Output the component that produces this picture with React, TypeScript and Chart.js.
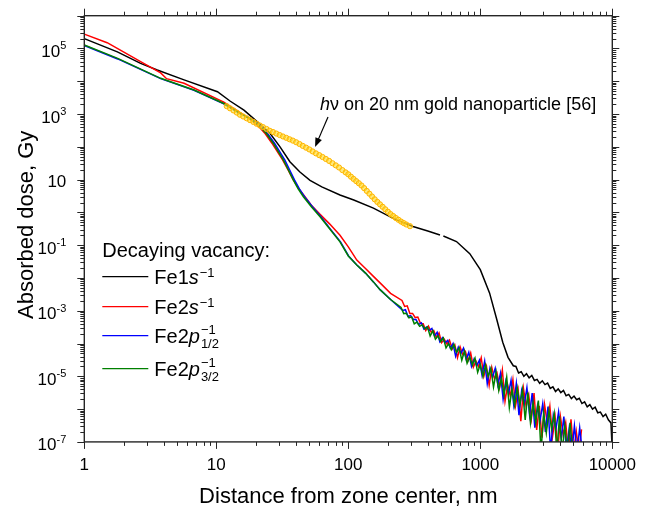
import React, { useEffect, useRef } from 'react';
import { Chart, registerables } from 'chart.js';

Chart.register(...registerables);

const FONT = '"Liberation Sans", Arial, Helvetica, sans-serif';
const AXIS_COLOR = '#262626';

// ---- axes ----
const X_MIN = 1;
const X_MAX = 10000;
const Y_MIN = 1e-7;
const Y_MAX = 1e6;
const xTickValues = [1, 10, 100, 1000, 10000];
const xTickLabels = ['1', '10', '100', '1000', '10000'];
const yTickExponents = [5, 3, 1, -1, -3, -5, -7];
const xTitle = 'Distance from zone center, nm';
const yTitle = 'Absorbed dose, Gy';
const legendTitle = 'Decaying vacancy:';

// ---- Fe1s^-1 (black) ----
const fe1sDistance = [
  1, 1.78, 2.67, 3.57, 5.7, 10.2, 12.7, 16.2, 19.1, 25.5, 30.4, 36.1, 43, 51.3, 63, 86.5, 110, 155, 219, 309, 400, 495,
  510, 525, 660, 832, 1000, 1175, 1330, 1479, 1622, 1778,
  1862, 1950, 2042, 2138, 2239, 2344, 2455, 2570, 2692, 2818, 2951, 3090, 3236, 3388, 3548, 3715, 3890, 4074, 4266,
  4467, 4677, 4898, 5129, 5370, 5623, 5888, 6166, 6457, 6761, 7079, 7413, 7762, 8128, 8511, 8913, 9333, 9772, 10000,
];
const fe1sDose = [
  2.0e5, 7.9e4, 3.5e4, 2.2e4, 1.1e4, 4.8e3, 2.5e3, 1.32e3, 7.4e2, 2.6e2, 1.0e2, 35, 17, 9.5, 6.0, 3.4, 2.4, 1.35, 0.66,
  0.37, 0.27, 0.205,
  null, 0.19, 0.129, 0.055, 0.018, 3.5e-3, 5.6e-4, 1.1e-4, 3.8e-5, 2.1e-5,
  2.0e-5, 1.26e-5, 1.38e-5, 1.0e-5, 1.2e-5, 9.0e-6, 1.06e-5, 7.5e-6, 8.1e-6, 6.1e-6, 7.3e-6, 5.6e-6, 6.2e-6, 4.3e-6,
  4.8e-6, 3.45e-6, 4.15e-6, 3.2e-6, 3.7e-6, 2.55e-6, 2.8e-6, 2.1e-6, 2.5e-6, 1.93e-6, 2.14e-6, 1.48e-6, 1.66e-6,
  1.17e-6, 1.37e-6, 1.0e-6, 1.14e-6, 7.7e-7, 8.1e-7, 5.9e-7, 7.0e-7, 4.7e-7, 3.8e-7, 5e-8,
];

// ---- Fe2s^-1 (red) ----
const fe2sDistance = [
  1, 1.49, 2.67, 3.79, 4.2, 5.7, 11.4, 15.1, 18.0, 21.0, 23.5, 26.4, 29.0, 31.8, 34.9, 38.3, 42.0, 46.5, 52.5, 61.1,
  72.4, 86.5, 100, 116, 135, 155, 174, 209,
];
const fe2sDose = [
  2.75e5, 1.5e5, 4.0e4, 1.8e4, 1.2e4, 8.7e3, 2.3e3, 1.1e3, 7.0e2, 4.2e2, 2.5e2, 1.29e2, 71, 40, 20, 9.8, 5.4, 3.2, 1.65,
  0.87, 0.44, 0.2, 0.089, 0.035, 0.0195, 0.0112, 7.1e-3, 3.4e-3,
];
const fe2sTailDistance = [
  255.1, 267.3, 279.5, 292.7, 306.9, 321.2, 336.4, 352.7, 368.9, 386.2,
  404.5, 423.8, 444.1, 464.4, 486.8, 509.2, 533.6, 559.0, 584.4, 612.8,
  641.3, 671.8, 703.3, 735.8, 771.4, 806.9, 845.6, 885.2, 926.9, 970.6,
  1016, 1064, 1114, 1167, 1222, 1280, 1339, 1402, 1469, 1539,
  1611, 1687, 1766, 1850, 1936, 2028, 2123, 2224, 2328, 2438,
  2553, 2673, 2799, 2931, 3069, 3214, 3365, 3524, 3690, 3864,
  4046, 4237, 4436, 4646, 4864, 5094, 5334, 5585, 5848,
];
const fe2sTailDose = [
  2.07e-3, 1.35e-3, 1.41e-3, 8.3e-4, 8.3e-4, 6.2e-4, 6.4e-4, 4.1e-4, 4.0e-4, 2.5e-4,
  3.4e-4, 2.26e-4, 2.5e-4, 1.55e-4, 2.1e-4, 1.06e-4, 1.34e-4, 9.7e-5, 1.26e-4, 6.8e-5,
  9.1e-5, 3.7e-5, 7.9e-5, 4.6e-5, 5.7e-5, 3.0e-5, 5.2e-5, 1.9e-5, 2.9e-5, 1.96e-5,
  3.7e-5, 1.01e-5, 2.0e-5, 5.3e-6, 1.85e-5, 8.4e-6, 1.24e-5, 4.6e-6, 1.56e-5, 1.73e-6,
  5.5e-6, 2.5e-6, 8.0e-6, 1.28e-6, 3.8e-6, 4.3e-7, 4.3e-6, 1.2e-6, 2.7e-6, 5.2e-7,
  3.1e-6, 2.3e-7, 1.26e-6, 1.34e-7, 1.36e-6, 3.8e-7, 1.22e-6, 1.43e-7, 5.5e-7, 5e-8,
  5.9e-7, 1.7e-7, 3.9e-7, 5e-8, 4.9e-7, 5e-8, 2.1e-7, 5e-8, 2.4e-7,
];

// ---- Fe2p1/2^-1 (blue) ----
const fe2p12Distance = [
  1, 1.79, 3.79, 6.78, 11.4, 15.2, 18.5, 21.9, 24.5, 27.6, 30.2, 33.0, 35.9, 39.1, 42.6, 46.6, 53.5, 62.0, 73.2, 87.3,
  100.5, 116, 135, 155, 174, 209,
];
const fe2p12Dose = [
  1.23e5, 4.8e4, 1.2e4, 5.3e3, 2.05e3, 1.03e3, 7.0e2, 4.2e2, 2.5e2, 1.29e2, 71, 40, 20, 9.8, 5.2, 3.0, 1.48, 0.74,
  0.31, 0.126, 0.047, 0.025, 0.0141, 7.6e-3, 4.4e-3, 2.2e-3,
];
const fe2p12TailDistance = [
  258.6, 271.0, 283.4, 296.8, 311.2, 325.6, 341.1, 357.5, 374.0, 391.6,
  410.1, 429.7, 450.3, 470.9, 493.6, 516.2, 541.0, 566.7, 592.5, 621.3,
  650.2, 681.1, 713.0, 746.0, 782.1, 818.1, 857.3, 897.5, 939.7, 984.0,
  1030, 1079, 1129, 1183, 1239, 1297, 1358, 1422, 1489, 1560,
  1633, 1710, 1791, 1875, 1963, 2056, 2153, 2255, 2361, 2472,
  2588, 2710, 2838, 2972, 3112, 3258, 3412, 3572, 3741, 3918,
  4102, 4296, 4498, 4710, 4932, 5164, 5408, 5662, 5929,
];
const fe2p12TailDose = [
  1.02e-3, 1.08e-3, 6.7e-4, 7.1e-4, 5.4e-4, 5.4e-4, 3.8e-4, 4.3e-4, 2.75e-4, 3.2e-4,
  2.5e-4, 2.9e-4, 1.69e-4, 2.2e-4, 1.13e-4, 1.5e-4, 1.06e-4, 1.26e-4, 7.3e-5, 1.0e-4,
  4.1e-5, 7.7e-5, 5.0e-5, 7.2e-5, 3.3e-5, 5.4e-5, 2.0e-5, 3.4e-5, 2.1e-5, 3.1e-5,
  1.09e-5, 2.9e-5, 5.9e-6, 1.75e-5, 9.4e-6, 1.75e-5, 5.4e-6, 1.24e-5, 2.0e-6, 7.0e-6,
  2.9e-6, 7.6e-6, 1.37e-6, 6.0e-6, 6.5e-7, 3.6e-6, 1.4e-6, 4.5e-6, 6.7e-7, 3.1e-6,
  2.7e-7, 1.24e-6, 4.5e-7, 1.45e-6, 2.0e-7, 1.2e-6, 5e-8, 6.4e-7, 2.5e-7, 8.2e-7,
  1.25e-7, 5.9e-7, 5e-8, 2.5e-7, 5e-8, 3.1e-7, 5e-8, 2.7e-7, 5e-8,
];

// ---- Fe2p3/2^-1 (green) ----
const fe2p32Distance = [
  1, 1.79, 3.79, 6.78, 11.4, 15.1, 18.2, 21.5, 24.0, 27.0, 29.5, 32.2, 35.1, 38.3, 41.7, 45.7, 52.5, 61.1, 72.4, 86.5,
  100, 116, 135, 155, 174, 209,
];
const fe2p32Dose = [
  1.28e5, 5.0e4, 1.23e4, 5.4e3, 2.1e3, 1.05e3, 7.0e2, 4.2e2, 2.5e2, 1.29e2, 71, 40, 20, 9.8, 5.2, 3.0, 1.48, 0.74,
  0.31, 0.126, 0.047, 0.025, 0.0141, 7.6e-3, 4.4e-3, 2.2e-3,
];
const fe2p32TailDistance = [
  251, 263, 275, 288, 302, 316, 331, 347, 363, 380,
  398, 417, 437, 457, 479, 501, 525, 550, 575, 603,
  631, 661, 692, 724, 759, 794, 832, 871, 912, 955,
  1000, 1047, 1096, 1148, 1202, 1259, 1318, 1380, 1445, 1514,
  1585, 1660, 1738, 1820, 1905, 1995, 2089, 2188, 2291, 2399,
  2512, 2630, 2754, 2884, 3020, 3162, 3311, 3467, 3631, 3802,
  3981, 4169, 4365, 4571, 4786, 5012,
];
const fe2p32TailDose = [
  1.26e-3, 8.2e-4, 8.4e-4, 6.1e-4, 6.5e-4, 4.0e-4, 4.5e-4, 3.35e-4, 3.7e-4, 2.8e-4,
  3.2e-4, 1.71e-4, 2.45e-4, 1.36e-4, 1.72e-4, 1.15e-4, 1.48e-4, 7.4e-5, 9.9e-5, 6.5e-5,
  9.4e-5, 5.4e-5, 7.3e-5, 3.1e-5, 5.9e-5, 2.5e-5, 3.9e-5, 2.2e-5, 3.55e-5, 1.32e-5,
  2.3e-5, 1.0e-5, 2.2e-5, 1.0e-5, 1.73e-5, 4.7e-6, 1.35e-5, 3.7e-6, 8.7e-6, 2.7e-6,
  9.3e-6, 1.11e-6, 4.1e-6, 1.28e-6, 4.4e-6, 1.38e-6, 4.0e-6, 4.7e-7, 3.2e-6, 3.8e-7,
  1.55e-6, 4.0e-7, 1.82e-6, 5e-8, 7.5e-7, 1.9e-7, 8.8e-7, 2.5e-7, 7.3e-7, 5e-8,
  6.0e-7, 5e-8, 3.1e-7, 5e-8, 3.8e-7, 5e-8,
];

// ---- h nu on 20 nm gold nanoparticle [56] (markers) ----
const goldDistance = [
  12.0, 12.7, 13.5, 14.3, 15.1, 16.0, 17.0, 18.0, 19.1, 20.2, 21.4, 22.6, 24.0, 25.4, 26.9, 28.5, 30.2, 32.0, 33.9,
  35.9, 38.0, 40.3, 42.7, 45.2, 47.9, 50.7, 53.7, 56.9, 60.3, 63.8, 67.6, 71.6, 75.9, 80.4, 85.1, 90.2, 95.5, 100,
  104.7, 109.6, 114.8, 120.2, 125.9, 131.8, 138.0, 144.5, 151.4, 158.5, 166.0, 173.8, 182.0, 190.5, 199.5, 208.9,
  218.8, 229.1, 239.9, 251.2, 263.0, 275.4, 293.1,
];
const goldDose = [
  1738, 1496, 1288, 1109, 955, 841, 741, 653, 575, 507, 447, 398, 351, 309, 282, 254, 229, 207, 188,
  170, 155, 138, 122, 107, 94.4, 83.2, 72.4, 63.1, 55.6, 49.0, 42.7, 37.2, 31.6, 27.2, 23.4, 19.5, 16.6, 14.5,
  12.3, 10.5, 9.0, 7.76, 6.61, 5.5, 4.52, 3.72, 3.05, 2.51, 2.09, 1.76, 1.48, 1.245, 1.05, 0.89,
  0.776, 0.676, 0.596, 0.525, 0.473, 0.427, 0.38,
];

// annotation anchors (data units)
const annotationText = { italic: 'h', rest: 'ν on 20 nm gold nanoparticle [56]' };
const annotationAnchor = { x: 61, y: 1334 };
const arrowFrom = { x: 70.2, y: 813 };
const arrowTo = { x: 56, y: 99 };

const SERIES = [
  { key: 'fe1s', color: '#000000', parts: [['Fe1', 'n'], ['s', 'i'], ['−1', 'sup']] },
  { key: 'fe2s', color: '#ff0000', parts: [['Fe2', 'n'], ['s', 'i'], ['−1', 'sup']] },
  { key: 'fe2p12', color: '#0000ff', parts: [['Fe2', 'n'], ['p', 'i'], ['−1', 'supsub', '1/2']] },
  { key: 'fe2p32', color: '#008000', parts: [['Fe2', 'n'], ['p', 'i'], ['−1', 'supsub', '3/2']] },
];

const pts = (xs: number[], ys: (number | null)[]) => xs.map((x, i) => ({ x, y: ys[i] }));

const decorPlugin = {
  id: 'decor',
  afterDraw(chart: any) {
    const { ctx, chartArea: a } = chart;
    const xs = chart.scales.x;
    const ys = chart.scales.y;
    ctx.save();
    ctx.strokeStyle = AXIS_COLOR;
    const seg = (x1: number, y1: number, x2: number, y2: number) => {
      ctx.beginPath();
      ctx.moveTo(x1, y1);
      ctx.lineTo(x2, y2);
      ctx.stroke();
    };
    // ticks
    ctx.lineWidth = 1;
    for (let e = 0; e <= 4; e++) {
      for (let m = 1; m <= 9; m++) {
        const v = m * Math.pow(10, e);
        if (v > X_MAX) break;
        const px = Math.round(xs.getPixelForValue(v)) + 0.5;
        const len = m === 1 ? 7 : 4;
        seg(px, a.bottom, px, a.bottom + len);
        seg(px, a.top, px, a.top - len);
      }
    }
    for (let e = -7; e <= 6; e++) {
      for (let m = 1; m <= 9; m++) {
        const v = m * Math.pow(10, e);
        if (v > Y_MAX * 1.0001) break;
        const py = Math.round(ys.getPixelForValue(v)) + 0.5;
        const len = m === 1 ? 7 : 4;
        seg(a.left, py, a.left - len, py);
        seg(a.right, py, a.right + len, py);
      }
    }
    // frame
    ctx.lineWidth = 1.4;
    ctx.strokeRect(a.left, a.top, a.right - a.left, a.bottom - a.top);

    ctx.fillStyle = '#000';
    ctx.textBaseline = 'alphabetic';
    // x tick labels
    ctx.font = `17px ${FONT}`;
    ctx.textAlign = 'center';
    xTickValues.forEach((v, i) => {
      ctx.fillText(xTickLabels[i], xs.getPixelForValue(v), a.bottom + 28);
    });
    // y tick labels with superscripts
    ctx.textAlign = 'left';
    const right = a.left - 18;
    yTickExponents.forEach((e) => {
      const py = ys.getPixelForValue(Math.pow(10, e));
      const sup = e === 1 ? '' : String(e);
      ctx.font = `17px ${FONT}`;
      const wb = ctx.measureText('10').width;
      ctx.font = `11px ${FONT}`;
      const ws = sup ? ctx.measureText(sup).width : 0;
      const start = right - wb - ws;
      ctx.font = `17px ${FONT}`;
      ctx.fillText('10', start, py + (sup ? 8.5 : 7));
      if (sup) {
        ctx.font = `11px ${FONT}`;
        ctx.fillText(sup, start + wb, py + 1);
      }
    });
    // axis titles
    ctx.font = `22px ${FONT}`;
    ctx.textAlign = 'center';
    ctx.fillText(xTitle, (a.left + a.right) / 2, a.bottom + 61);
    ctx.save();
    ctx.translate(33, (a.top + a.bottom) / 2 - 4);
    ctx.rotate(-Math.PI / 2);
    ctx.fillText(yTitle, 0, 0);
    ctx.restore();

    // legend
    ctx.textAlign = 'left';
    const lx = a.left + 18;
    ctx.font = `20px ${FONT}`;
    ctx.fillText(legendTitle, lx, a.top + 241);
    const rowY = [a.top + 261, a.top + 291, a.top + 320, a.top + 353];
    SERIES.forEach((s, i) => {
      const y = rowY[i];
      ctx.strokeStyle = s.color;
      ctx.lineWidth = 1.3;
      seg(lx, y, lx + 46, y);
      let cx = lx + 52;
      const base = y + 7;
      ctx.fillStyle = '#000';
      s.parts.forEach((p: any) => {
        const [text, kind, sub] = p;
        if (kind === 'n' || kind === 'i') {
          ctx.font = `${kind === 'i' ? 'italic ' : ''}20px ${FONT}`;
          ctx.fillText(text, cx, base);
          cx += ctx.measureText(text).width;
        } else if (kind === 'sup') {
          ctx.font = `13px ${FONT}`;
          ctx.fillText(text, cx + 1, base - 6.5);
          cx += ctx.measureText(text).width + 1;
        } else {
          ctx.font = `13px ${FONT}`;
          ctx.fillText(text, cx + 1, base - 9);
          ctx.fillText(sub, cx + 1, base + 5);
        }
      });
    });

    // annotation
    const tx = xs.getPixelForValue(annotationAnchor.x);
    const ty = ys.getPixelForValue(annotationAnchor.y);
    ctx.font = `italic 18px ${FONT}`;
    ctx.fillText(annotationText.italic, tx, ty);
    const wh = ctx.measureText(annotationText.italic).width;
    ctx.font = `18px ${FONT}`;
    ctx.fillText(annotationText.rest, tx + wh, ty);
    const x1 = xs.getPixelForValue(arrowFrom.x);
    const y1 = ys.getPixelForValue(arrowFrom.y);
    const x2 = xs.getPixelForValue(arrowTo.x);
    const y2 = ys.getPixelForValue(arrowTo.y);
    const ang = Math.atan2(y2 - y1, x2 - x1);
    const hl = 9;
    const hw = 3.5;
    ctx.strokeStyle = '#000';
    ctx.lineWidth = 1.2;
    seg(x1, y1, x2 - Math.cos(ang) * hl * 0.8, y2 - Math.sin(ang) * hl * 0.8);
    ctx.beginPath();
    ctx.moveTo(x2, y2);
    ctx.lineTo(x2 - Math.cos(ang) * hl - Math.sin(ang) * hw, y2 - Math.sin(ang) * hl + Math.cos(ang) * hw);
    ctx.lineTo(x2 - Math.cos(ang) * hl + Math.sin(ang) * hw, y2 - Math.sin(ang) * hl - Math.cos(ang) * hw);
    ctx.closePath();
    ctx.fill();
    ctx.restore();
  },
};

export default function App() {
  const ref = useRef<HTMLCanvasElement | null>(null);
  useEffect(() => {
    if (!ref.current) return;
    const line = (label: string, data: any[], color: string, order: number) => ({
      label,
      data,
      borderColor: color,
      backgroundColor: color,
      borderWidth: 1.5,
      pointRadius: 0,
      fill: false,
      tension: 0,
      spanGaps: false,
      order,
    });
    const chart = new Chart(ref.current, {
      type: 'line',
      data: {
        datasets: [
          {
            label: 'gold',
            data: pts(goldDistance, goldDose),
            showLine: false,
            pointRadius: 2.6,
            pointBorderWidth: 1,
            pointBackgroundColor: 'rgba(255, 220, 40, 0.6)',
            pointBorderColor: '#ffb400',
            order: 0,
          } as any,
          line('Fe2p3/2', pts([...fe2p32Distance, ...fe2p32TailDistance], [...fe2p32Dose, ...fe2p32TailDose]), '#008000', 1),
          line('Fe2p1/2', pts([...fe2p12Distance, ...fe2p12TailDistance], [...fe2p12Dose, ...fe2p12TailDose]), '#0000ff', 2),
          line('Fe2s', pts([...fe2sDistance, ...fe2sTailDistance], [...fe2sDose, ...fe2sTailDose]), '#ff0000', 3),
          line('Fe1s', pts(fe1sDistance, fe1sDose), '#000000', 4),
        ],
      },
      options: {
        responsive: false,
        animation: false,
        events: [],
        layout: { padding: { left: 84.3, right: 40.7, top: 15.7, bottom: 66.1 } },
        plugins: { legend: { display: false }, tooltip: { enabled: false } },
        scales: {
          x: { type: 'logarithmic', min: X_MIN, max: X_MAX, display: false },
          y: { type: 'logarithmic', min: Y_MIN, max: Y_MAX, display: false },
        },
      },
      plugins: [decorPlugin],
    });
    return () => chart.destroy();
  }, []);
  return (
    <div style={{ position: 'fixed', left: 0, top: 0, width: 653, height: 508, background: '#fff' }}>
      <canvas ref={ref} width={653} height={508} style={{ display: 'block', width: 653, height: 508 }} />
    </div>
  );
}
